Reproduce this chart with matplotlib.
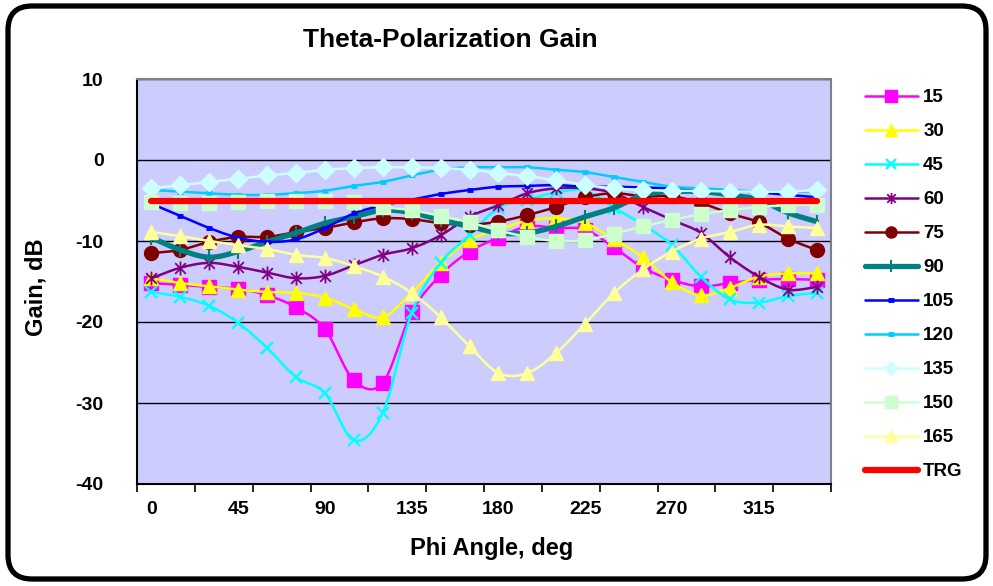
import numpy as np
import matplotlib
matplotlib.use('Agg')
import matplotlib.pyplot as plt
from matplotlib.patches import FancyBboxPatch
from matplotlib.path import Path
from matplotlib.lines import Line2D
from matplotlib.transforms import IdentityTransform

plt.rcParams['font.family'] = ['Liberation Sans', 'DejaVu Sans']
plt.rcParams['font.weight'] = 'bold'
plt.rcParams['axes.unicode_minus'] = False

# Phi sweep, 15 deg steps
phi = list(range(0, 360, 15))

# Gain (dB) per theta cut
g15 = [-15.2, -15.4, -15.7, -15.9, -16.7, -18.2, -20.9, -27.2, -27.5, -18.8, -14.2, -11.3,
       -9.6, -8.2, -8.4, -8.6, -10.8, -13.3, -14.8, -15.6, -15.2, -14.8, -14.7, -14.8]
g30 = [-14.6, -15.2, -15.6, -16.0, -16.3, -16.4, -17.0, -18.4, -19.4, -16.4, -12.7, -9.9,
       -8.6, -7.5, -7.2, -7.8, -9.8, -12.0, -15.1, -16.7, -15.8, -14.4, -14.0, -14.0]
g45 = [-16.3, -16.9, -18.0, -20.1, -23.2, -26.8, -28.8, -34.6, -31.2, -18.9, -12.7, -9.3,
       -5.9, -4.9, -4.0, -3.8, -5.9, -8.0, -10.5, -14.4, -17.2, -17.6, -16.8, -16.4]
g60 = [-14.6, -13.3, -12.7, -13.2, -13.9, -14.6, -14.3, -13.0, -11.7, -10.9, -9.3, -7.0,
       -5.6, -4.1, -3.5, -3.5, -4.1, -5.8, -7.4, -9.0, -12.0, -14.4, -16.0, -15.7]
g75 = [-11.5, -11.1, -10.1, -9.5, -9.5, -8.9, -8.4, -7.7, -7.2, -7.3, -7.8, -8.0,
       -7.6, -6.8, -5.8, -4.6, -4.1, -4.5, -4.5, -5.3, -6.6, -7.7, -9.7, -11.1]
g90 = [-9.6, -11.1, -12.0, -11.3, -10.1, -9.0, -7.8, -7.0, -6.2, -6.5, -7.4, -8.2,
       -9.0, -9.0, -8.2, -7.0, -5.9, -4.3, -3.9, -3.9, -4.3, -4.9, -6.5, -7.6]
g105 = [-5.4, -6.9, -8.4, -9.6, -10.1, -9.8, -8.4, -6.6, -5.6, -4.9, -4.2, -3.7,
        -3.3, -3.2, -3.1, -3.3, -3.3, -3.4, -3.5, -3.6, -3.8, -4.0, -4.3, -4.6]
g120 = [-3.7, -3.9, -4.1, -4.3, -4.3, -4.1, -3.8, -3.2, -2.7, -1.9, -1.2, -0.9,
        -0.9, -0.9, -1.2, -1.5, -2.1, -2.7, -3.3, -3.5, -3.7, -3.9, -3.9, -3.9]
g135 = [-3.5, -3.1, -2.7, -2.3, -1.9, -1.6, -1.2, -1.0, -0.9, -0.9, -1.0, -1.2,
        -1.6, -2.0, -2.5, -3.1, -3.5, -3.7, -3.8, -3.8, -3.9, -3.9, -3.9, -3.7]
g150 = [-5.2, -5.3, -5.3, -5.2, -5.1, -5.0, -5.1, -5.2, -5.8, -6.2, -6.9, -7.7,
        -8.7, -9.5, -10.0, -9.9, -9.1, -8.2, -7.4, -6.7, -6.2, -5.8, -5.6, -5.5]
g165 = [-8.9, -9.4, -10.0, -10.5, -11.0, -11.7, -12.1, -13.1, -14.4, -16.4, -19.4, -23.0,
        -26.3, -26.3, -23.8, -20.2, -16.4, -13.5, -11.3, -9.7, -8.9, -8.0, -8.2, -8.4]
trg = [-5.0] * len(phi)

labels = ['15', '30', '45', '60', '75', '90', '105', '120', '135', '150', '165', 'TRG']
series = [g15, g30, g45, g60, g75, g90, g105, g120, g135, g150, g165, trg]
colors = ['#FF00FF', '#FFFF00', '#00FFFF', '#800080', '#800000', '#008080',
          '#0000FF', '#00CCFF', '#CCFFFF', '#CCFFCC', '#FFFF99', '#FF0000']

# excel-style asterisk: x with a vertical bar
star = Path([(-1, -1), (1, 1), (-1, 1), (1, -1), (0, -1.3), (0, 1.3)],
            [Path.MOVETO, Path.LINETO, Path.MOVETO, Path.LINETO, Path.MOVETO, Path.LINETO])

styles = [
    dict(marker='s', ms=10, lw=1.8),
    dict(marker='^', ms=10.5, lw=1.8),
    dict(marker='x', ms=8.5, mew=1.6, lw=1.8),
    dict(marker=star, ms=10, mew=1.3, lw=1.8),
    dict(marker='o', ms=10, lw=1.8),
    dict(marker='|', ms=10, mew=1.5, lw=3.8),
    dict(marker='_', ms=5, mew=3.5, lw=1.8),
    dict(marker='_', ms=5, mew=3.5, lw=1.8),
    dict(marker='D', ms=9, lw=1.8),
    dict(marker='s', ms=10, lw=1.8),
    dict(marker='^', ms=10.5, lw=1.8),
    dict(marker=None, ms=0, lw=4.5),
]


def smooth(x, y, n=12):
    # Catmull-Rom curve through the points, like Excel's smoothed line
    x = np.asarray(x, float)
    y = np.asarray(y, float)
    px = np.concatenate([[2 * x[0] - x[1]], x, [2 * x[-1] - x[-2]]])
    py = np.concatenate([[2 * y[0] - y[1]], y, [2 * y[-1] - y[-2]]])
    t = np.linspace(0, 1, n, endpoint=False)
    xs, ys = [], []
    for i in range(1, len(px) - 2):
        for p, out in ((px, xs), (py, ys)):
            p0, p1, p2, p3 = p[i - 1], p[i], p[i + 1], p[i + 2]
            out.extend(0.5 * (2 * p1 + (-p0 + p2) * t
                              + (2 * p0 - 5 * p1 + 4 * p2 - p3) * t ** 2
                              + (-p0 + 3 * p1 - 3 * p2 + p3) * t ** 3))
    xs.append(x[-1])
    ys.append(y[-1])
    return xs, ys


fig = plt.figure(figsize=(9.93, 5.86), dpi=100)
fig.patch.set_facecolor('white')
W, H = 993, 586

ax = fig.add_axes([137 / W, 1 - 484 / H, 694 / W, 405 / H])
ax.set_facecolor('#CCCCFF')

handles = []
for lab, vals, c, st in zip(labels, series, colors, styles):
    sx, sy = smooth(phi, vals)
    ax.plot(sx, sy, color=c, lw=st['lw'], solid_capstyle='round', zorder=3)
    if st['marker'] is not None:
        ax.plot(phi, vals, ls='none', marker=st['marker'], ms=st['ms'],
                mew=st.get('mew', 1.0), mfc=c, mec=c, zorder=3)
    handles.append(Line2D([], [], color=c, lw=st['lw'], marker=st['marker'],
                          ms=st['ms'] * 0.8, mew=st.get('mew', 1.0), mfc=c, mec=c,
                          solid_capstyle='round'))

ax.set_xlim(-7.5, 352.5)
ax.set_ylim(-40, 10)
ax.set_yticks(range(-40, 11, 10))
ax.set_yticklabels([str(v) for v in range(-40, 11, 10)])
ax.set_xticks(range(0, 360, 45))
ax.set_xticks(np.arange(-7.5, 353, 30), minor=True)
ax.grid(axis='y', color='black', lw=1.0)
ax.set_axisbelow(True)
ax.tick_params(axis='x', which='major', length=0, pad=12, labelsize=14)
ax.tick_params(axis='x', which='minor', length=6, width=1.2, direction='out', color='black')
ax.tick_params(axis='y', length=0, pad=24, labelsize=14)
for lbl in ax.get_xticklabels() + ax.get_yticklabels():
    lbl.set_fontweight('bold')

ax.spines['left'].set_color('black')
ax.spines['bottom'].set_color('black')
ax.spines['top'].set_color('#808080')
ax.spines['right'].set_color('#808080')
for s in ax.spines.values():
    s.set_linewidth(1.5)

fig.text(450 / W, 1 - 47 / H, 'Theta-Polarization Gain', ha='center', va='baseline',
         fontsize=19, fontweight='bold')
fig.text(492 / W, 1 - 555 / H, 'Phi Angle, deg', ha='center', va='baseline',
         fontsize=17, fontweight='bold')
fig.text(36 / W, 1 - 287 / H, 'Gain, dB', ha='center', va='center', rotation=90,
         fontsize=17, fontweight='bold')

fig.legend(handles, labels, loc='upper left', bbox_to_anchor=(865 / W, 1 - 89 / H),
           frameon=False, handlelength=2.8, handletextpad=0.3,
           labelspacing=0.9, borderpad=0, borderaxespad=0, numpoints=1,
           prop={'weight': 'bold', 'size': 13.5})

# rounded chart frame, drawn in pixel units
frame = FancyBboxPatch((8, 7), 978, 573,
                       boxstyle='round,pad=0,rounding_size=24',
                       transform=IdentityTransform(), fill=False, lw=3.8,
                       edgecolor='black', zorder=10)
fig.patches.append(frame)

fig.savefig('out.png', dpi=100)
